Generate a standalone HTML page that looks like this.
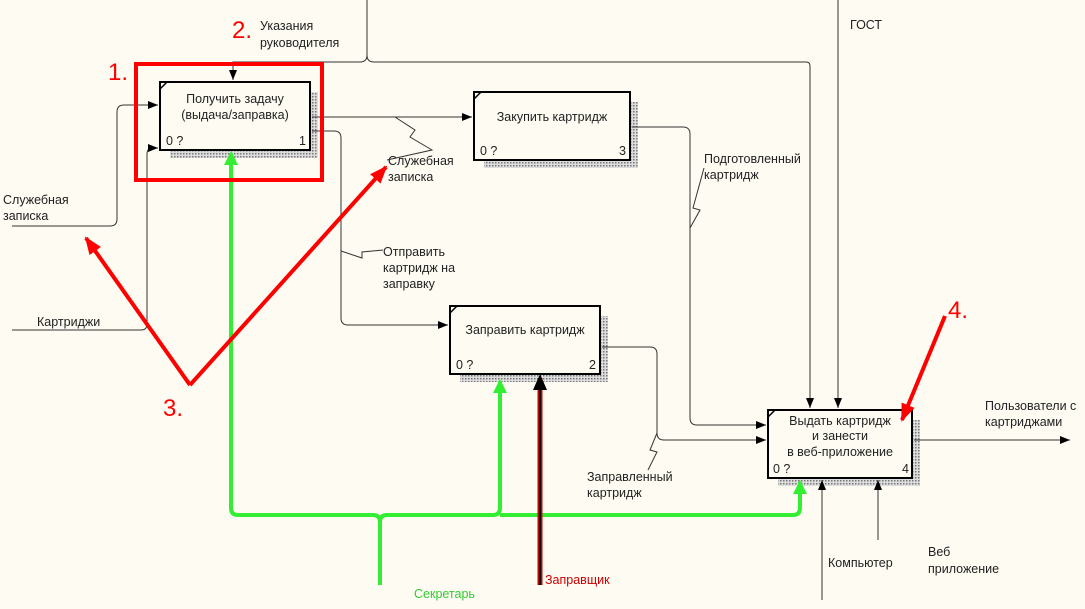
<!DOCTYPE html>
<html><head><meta charset="utf-8"><style>
html,body{margin:0;padding:0;background:#fdfbf2;}
svg{display:block;}
text{font-family:"Liberation Sans",sans-serif;font-size:12.5px;fill:#222;}
.r{fill:#f00;font-family:"Liberation Sans",sans-serif;font-size:24px;}
</style></head><body>
<svg width="1085" height="609" viewBox="0 0 1085 609" xmlns="http://www.w3.org/2000/svg">
<defs>
<pattern id="sh" width="3" height="3" patternUnits="userSpaceOnUse"><rect width="3" height="3" fill="#ddd"/><rect width="1.5" height="1.5" fill="#777"/></pattern>
<marker id="a" markerWidth="10" markerHeight="8" refX="10" refY="4" orient="auto" markerUnits="userSpaceOnUse"><path d="M0,0L10,4L0,8z" fill="#000"/></marker>
<marker id="g" markerWidth="14" markerHeight="14" refX="12" refY="7" orient="auto" markerUnits="userSpaceOnUse"><path d="M0,0L14,7L0,14z" fill="#3e3"/></marker>
<marker id="rr" markerWidth="18" markerHeight="14" refX="16" refY="7" orient="auto" markerUnits="userSpaceOnUse"><path d="M0,0L18,7L0,14z" fill="#f00"/></marker>
</defs>
<rect width="1085" height="609" fill="#fdfbf2"/>
<rect x="170" y="92" width="148" height="66" fill="url(#sh)"/>
<rect x="484" y="102" width="154" height="66" fill="url(#sh)"/>
<rect x="460" y="316" width="148" height="66" fill="url(#sh)"/>
<rect x="778" y="420" width="142" height="66" fill="url(#sh)"/>
<g fill="none" stroke="#333" stroke-width="1">
<path d="M367,0V55Q367,62 360,62H233V80" marker-end="url(#a)"/>
<path d="M367,55Q367,62 374,62H806Q810,62 810,66V408" marker-end="url(#a)"/>
<path d="M838,0V408" marker-end="url(#a)"/>
<path d="M12,226H110Q117,226 117,219V112Q117,105 124,105H158" marker-end="url(#a)"/>
<path d="M12,330H141Q147,330 147,324V154Q147,148 153,148H158" marker-end="url(#a)"/>
<path d="M312,117H472" marker-end="url(#a)"/>
<path d="M395,117L415,130L410,137L432,150L387,160" />
<path d="M312,131H334Q341,131 341,138V318Q341,325 348,325H448" marker-end="url(#a)"/>
<path d="M341,251L362,258L362,252L383,250"/>
<path d="M632,127H683Q690,127 690,134V418Q690,425 697,425H766" marker-end="url(#a)"/>
<path d="M704,168L693,208L700,210L690,228"/>
<path d="M602,347H650Q657,347 657,354V433Q657,440 664,440H766" marker-end="url(#a)"/>
<path d="M657,433L650,450L657,452L648,470"/>
<path d="M914,440H1070" marker-end="url(#a)"/>
<path d="M822,600V480" marker-end="url(#a)"/>
<path d="M878,540V480" marker-end="url(#a)"/>
</g>
<g fill="#fdfbf2" stroke="#000" stroke-width="2">
<rect x="160" y="82" width="150" height="68"/>
<rect x="474" y="92" width="156" height="68"/>
<rect x="450" y="306" width="150" height="68"/>
<rect x="768" y="410" width="144" height="68"/>
</g>
<g stroke="#000" stroke-width="1.5">
<path d="M160,89L167,82"/><path d="M474,99L481,92"/><path d="M450,313L457,306"/><path d="M768,417L775,410"/>
</g>
<text x="235" y="103" text-anchor="middle">Получить задачу</text>
<text x="235" y="119" text-anchor="middle">(выдача/заправка)</text>
<text x="166" y="145">0 ?</text><text x="299" y="145">1</text>
<text x="552" y="121" text-anchor="middle">Закупить картридж</text>
<text x="480" y="155">0 ?</text><text x="619" y="155">3</text>
<text x="525" y="334" text-anchor="middle">Заправить картридж</text>
<text x="456" y="369">0 ?</text><text x="589" y="369">2</text>
<text x="840" y="425" text-anchor="middle">Выдать картридж</text>
<text x="840" y="440" text-anchor="middle">и занести</text>
<text x="840" y="456" text-anchor="middle">в веб-приложение</text>
<text x="773" y="473">0 ?</text><text x="902" y="473">4</text>
<text x="260" y="30">Указания</text><text x="260" y="47">руководителя</text>
<text x="850" y="29">ГОСТ</text>
<text x="3" y="204">Служебная</text><text x="3" y="220">записка</text>
<text x="37" y="326">Картриджи</text>
<text x="388" y="165">Служебная</text><text x="388" y="181">записка</text>
<text x="383" y="256">Отправить</text><text x="383" y="272">картридж на</text><text x="383" y="288">заправку</text>
<text x="704" y="163">Подготовленный</text><text x="704" y="179">картридж</text>
<text x="587" y="481">Заправленный</text><text x="587" y="497">картридж</text>
<text x="985" y="410">Пользователи с</text><text x="985" y="426">картриджами</text>
<text x="828" y="567">Компьютер</text>
<text x="928" y="556">Веб</text><text x="928" y="573">приложение</text>
<text x="414" y="598" style="fill:#3c3">Секретарь</text>
<text x="545" y="584" style="fill:#c00">Заправщик</text>
<g fill="none" stroke="#3e3" stroke-width="4">
<path d="M380,585V522Q380,515 373,515H238Q231,515 231,508V153" marker-end="url(#g)"/>
<path d="M380,522Q380,515 387,515H493Q500,515 500,508V381" marker-end="url(#g)"/>
<path d="M500,515H793Q800,515 800,508V482" marker-end="url(#g)"/>
</g>
<path d="M540,585V378" stroke="#c00" stroke-width="5" fill="none"/>
<path d="M540,585V378" stroke="#000" stroke-width="2" fill="none"/>
<path d="M533,390L540,374L547,390z" fill="#000"/>
<rect x="136" y="64" width="186" height="116" fill="none" stroke="#f00" stroke-width="4"/>
<g stroke="#f00" stroke-width="4" fill="none">
<path d="M190,385L86,238" marker-end="url(#rr)"/>
<path d="M190,385L386,167" marker-end="url(#rr)"/>
<path d="M945,316L902,420" marker-end="url(#rr)"/>
</g>
<text class="r" x="108" y="80">1.</text>
<text class="r" x="232" y="38">2.</text>
<text class="r" x="163" y="416">3.</text>
<text class="r" x="948" y="318">4.</text>
</svg>
</body></html>
